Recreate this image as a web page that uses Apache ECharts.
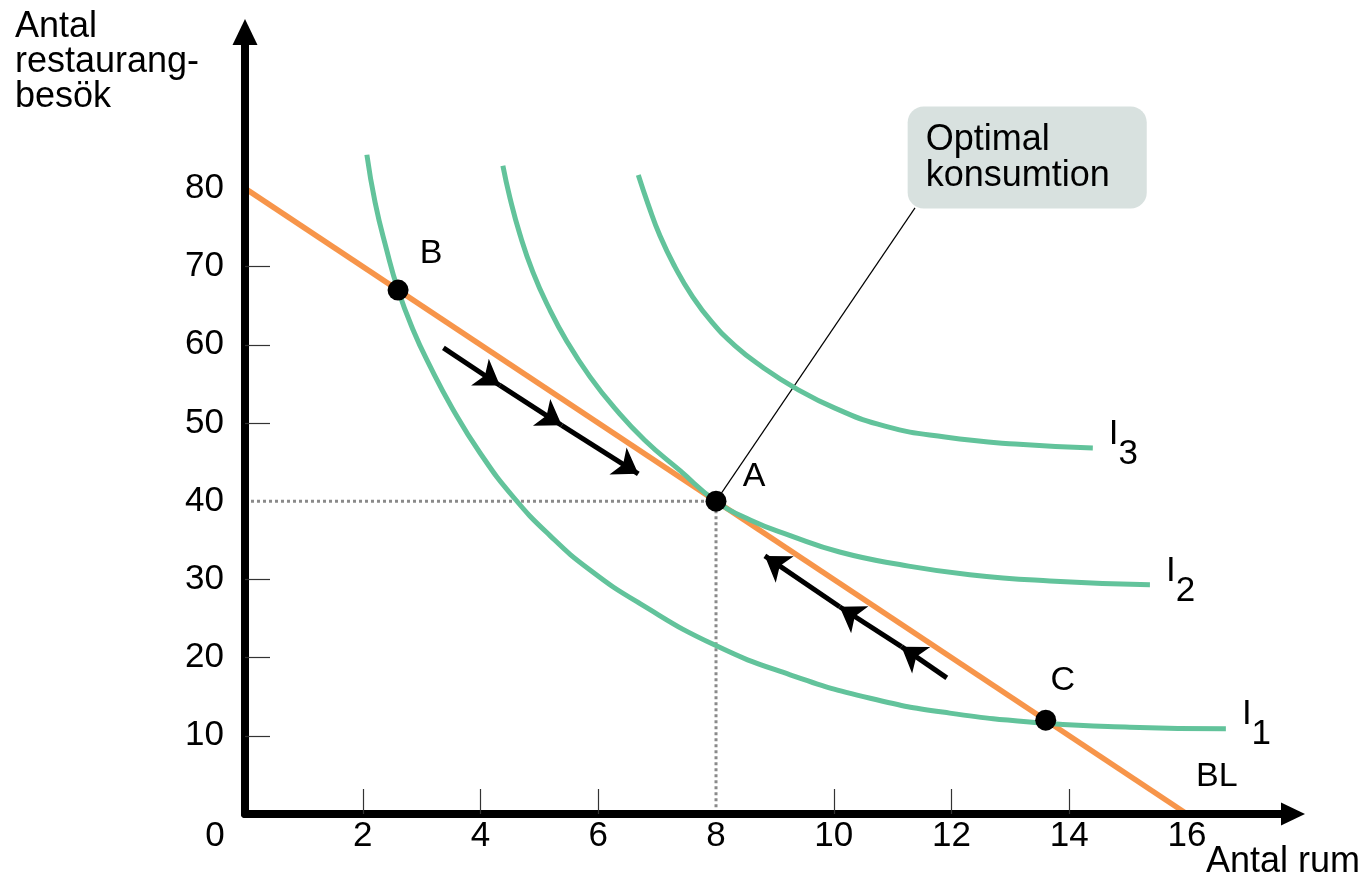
<!DOCTYPE html>
<html>
<head>
<meta charset="utf-8">
<script src="https://cdn.jsdelivr.net/npm/echarts@6/dist/echarts.min.js"></script>
<style>
  html, body { margin: 0; padding: 0; background: #ffffff; }
  #chart { width: 1368px; height: 879px; }
</style>
</head>
<body>
<div id="chart"></div>
<script>
// Tick labels and tick marks
const xTickLabels = [0, 2, 4, 6, 8, 10, 12, 14, 16];
const yTickLabels = [10, 20, 30, 40, 50, 60, 70, 80];
const xTickMarks = [2, 4, 6, 10, 12, 14];
const yTickMarks = [10, 20, 30, 50, 60, 70];

// Budget line (BL): 80 restaurant visits or 16 rooms
const budgetLine = [[0, 80], [16, 0]];

// Indifference curves I1, I2, I3  [antal rum, antal restaurangbesök]
const indiff1 = [[2.07, 84.3], [2.21, 78.2], [2.4, 72.3], [2.6, 67.0], [2.85, 62.0], [3.14, 57.3],
                 [3.52, 51.9], [3.99, 46.2], [4.55, 40.6], [5.18, 35.6], [5.86, 31.2], [6.71, 26.9],
                 [7.98, 21.6], [9.26, 17.8], [10.62, 14.8], [11.97, 12.9], [13.62, 11.6],
                 [15.03, 11.1], [16.66, 10.9]];
const indiff2 = [[4.38, 82.9], [4.5, 78.8], [4.67, 74.1], [4.89, 69.3], [5.15, 64.9], [5.47, 60.4],
                 [5.86, 55.9], [6.28, 51.9], [6.79, 47.8], [7.39, 43.9], [8.0, 40.0], [8.58, 37.6],
                 [9.26, 35.6], [10.1, 33.5], [11.12, 31.9], [12.31, 30.6], [13.67, 29.8], [15.37, 29.3]];
const indiff3 = [[6.68, 81.7], [6.85, 77.9], [7.05, 73.9], [7.3, 70.0], [7.59, 66.3], [7.93, 62.9],
                 [8.32, 59.9], [8.78, 57.2], [9.34, 54.5], [10.02, 51.9], [10.87, 49.6], [11.89, 48.2],
                 [13.08, 47.3], [14.4, 46.8]];

// Points on the budget line
const pointNames = ['B', 'A', 'C'];
const pointValues = [[2.6, 67], [8, 40], [13.6, 12]];

// Dotted guides to the optimum A
const guideLines = [[0, 40], [8, 40], [8, 0]];

// Movement arrows along the budget line (start, then each arrowhead)
const arrowFromB = [[3.37, 59.6], [4.33, 54.8], [5.38, 49.7], [6.68, 43.5]];
const arrowFromC = [[11.92, 17.4], [11.15, 21.4], [10.10, 26.5], [8.83, 33.0]];

// Callout "Optimal konsumtion": box corner and its leader line from A
const calloutCorner = [11.255, 90.48];
const calloutLeader = [[8, 40], [11.38, 77.5]];
const calloutText = 'Optimal\nkonsumtion';

const FONT = '"Liberation Sans", Arial, Helvetica, sans-serif';
const GREEN = '#62C39B';
const ORANGE = '#F7954A';
const INK = '#000000';

function segments(path) {
  const out = [];
  for (let i = 0; i < path.length - 1; i++) out.push({ coords: [path[i], path[i + 1]] });
  return out;
}

function curveSeries(data) {
  return {
    type: 'line', data: data, smooth: 0.5, showSymbol: false, symbol: 'none', z: 4,
    lineStyle: { color: GREEN, width: 5 }
  };
}

function indexLabel(point, idx) {
  return {
    value: point,
    label: {
      show: true, position: 'inside', align: 'left', verticalAlign: 'middle',
      offset: [16, -4],
      formatter: '{i|I}{s|' + idx + '}',
      rich: {
        i: { fontSize: 35, fontFamily: FONT, color: INK, lineHeight: 34, verticalAlign: 'top' },
        s: { fontSize: 35, fontFamily: FONT, color: INK, lineHeight: 55, verticalAlign: 'bottom' }
      }
    }
  };
}

const chart = echarts.init(document.getElementById('chart'));

chart.setOption({
  animation: false,
  backgroundColor: '#ffffff',
  title: [
    {
      text: 'Antal\nrestaurang-\nbesök', left: 15, top: 10, padding: 0,
      textStyle: { fontSize: 36, fontWeight: 'normal', lineHeight: 35, color: INK, fontFamily: FONT }
    },
    {
      text: 'Antal rum', left: 1206, top: 845, padding: 0,
      textStyle: { fontSize: 36, fontWeight: 'normal', lineHeight: 35, color: INK, fontFamily: FONT }
    }
  ],
  grid: { left: 245, right: 75, top: 32, bottom: 65, containLabel: false },
  xAxis: {
    type: 'value', min: 0, max: 17.8, z: 10,
    splitLine: { show: false },
    axisLine: {
      show: true, onZero: false, symbol: ['none', 'triangle'], symbolSize: [23, 24],
      lineStyle: { color: '#000000', width: 8 }
    },
    axisTick: { show: true, inside: true, length: 25, customValues: xTickMarks,
      lineStyle: { color: '#333333', width: 1.2 } },
    axisLabel: {
      show: true, customValues: xTickLabels, margin: 5, fontSize: 35, color: INK, fontFamily: FONT,
      formatter: function (v) { return v === 0 ? '{z|0}' : String(v); },
      rich: { z: { fontSize: 35, color: INK, fontFamily: FONT, padding: [0, 60, 0, 0] } }
    }
  },
  yAxis: {
    type: 'value', min: 0, max: 100, z: 10,
    splitLine: { show: false },
    axisLine: {
      show: true, onZero: false, symbol: ['none', 'triangle'], symbolSize: [25, 26],
      lineStyle: { color: '#000000', width: 8 }
    },
    axisTick: { show: true, inside: true, length: 25, customValues: yTickMarks,
      lineStyle: { color: '#333333', width: 1.2 } },
    axisLabel: {
      show: true, customValues: yTickLabels, margin: 21, fontSize: 35, color: INK, fontFamily: FONT,
      padding: [0, 0, 14, 0]
    }
  },
  series: [
    {
      // dotted guides to A
      type: 'line', data: guideLines, showSymbol: false, symbol: 'none', z: 1,
      lineStyle: { color: '#8a8a8a', width: 3, type: [3, 3] }
    },
    {
      // leader line of the callout
      type: 'line', data: calloutLeader, showSymbol: false, symbol: 'none', z: 2,
      lineStyle: { color: '#000000', width: 1.2 }
    },
    {
      // budget line
      type: 'line', data: budgetLine, showSymbol: false, symbol: 'none', z: 3,
      lineStyle: { color: ORANGE, width: 5.5 }
    },
    curveSeries(indiff1),
    curveSeries(indiff2),
    curveSeries(indiff3),
    {
      // arrows along the budget line
      type: 'lines', coordinateSystem: 'cartesian2d', z: 5,
      symbol: ['none', 'arrow'], symbolSize: [14, 24],
      lineStyle: { color: '#000000', width: 5, opacity: 1, curveness: 0 },
      data: segments(arrowFromB).concat(segments(arrowFromC))
    },
    {
      // points B, A, C
      type: 'scatter', z: 6, symbol: 'circle', symbolSize: 21,
      itemStyle: { color: '#000000', opacity: 1 },
      data: pointNames.map(function (name, i) {
        const offsets = { B: [33, -36], A: [38, -25], C: [17, -40] };
        return {
          name: name, value: pointValues[i],
          label: {
            show: true, position: 'inside', offset: offsets[name], formatter: name,
            fontSize: 34, color: INK, fontFamily: FONT
          }
        };
      })
    },
    {
      // curve and line labels
      type: 'scatter', z: 7, symbolSize: 0, silent: true,
      itemStyle: { opacity: 1 },
      data: [
        indexLabel(indiff1[indiff1.length - 1], 1),
        indexLabel(indiff2[indiff2.length - 1], 2),
        indexLabel(indiff3[indiff3.length - 1], 3),
        {
          value: budgetLine[budgetLine.length - 1],
          label: {
            show: true, position: 'inside', align: 'left', verticalAlign: 'middle',
            offset: [9, -37], formatter: 'BL', fontSize: 34, color: INK, fontFamily: FONT
          }
        }
      ]
    },
    {
      // callout box
      type: 'scatter', z: 8, symbolSize: 0, silent: true,
      itemStyle: { opacity: 1 },
      data: [{
        value: calloutCorner,
        label: {
          show: true, position: 'inside', align: 'left', verticalAlign: 'top',
          formatter: calloutText, fontSize: 36, lineHeight: 36, color: INK, fontFamily: FONT,
          backgroundColor: '#D8E1DF', borderRadius: 16, padding: [16, 37, 14, 18]
        }
      }]
    }
  ]
});
</script>
</body>
</html>
